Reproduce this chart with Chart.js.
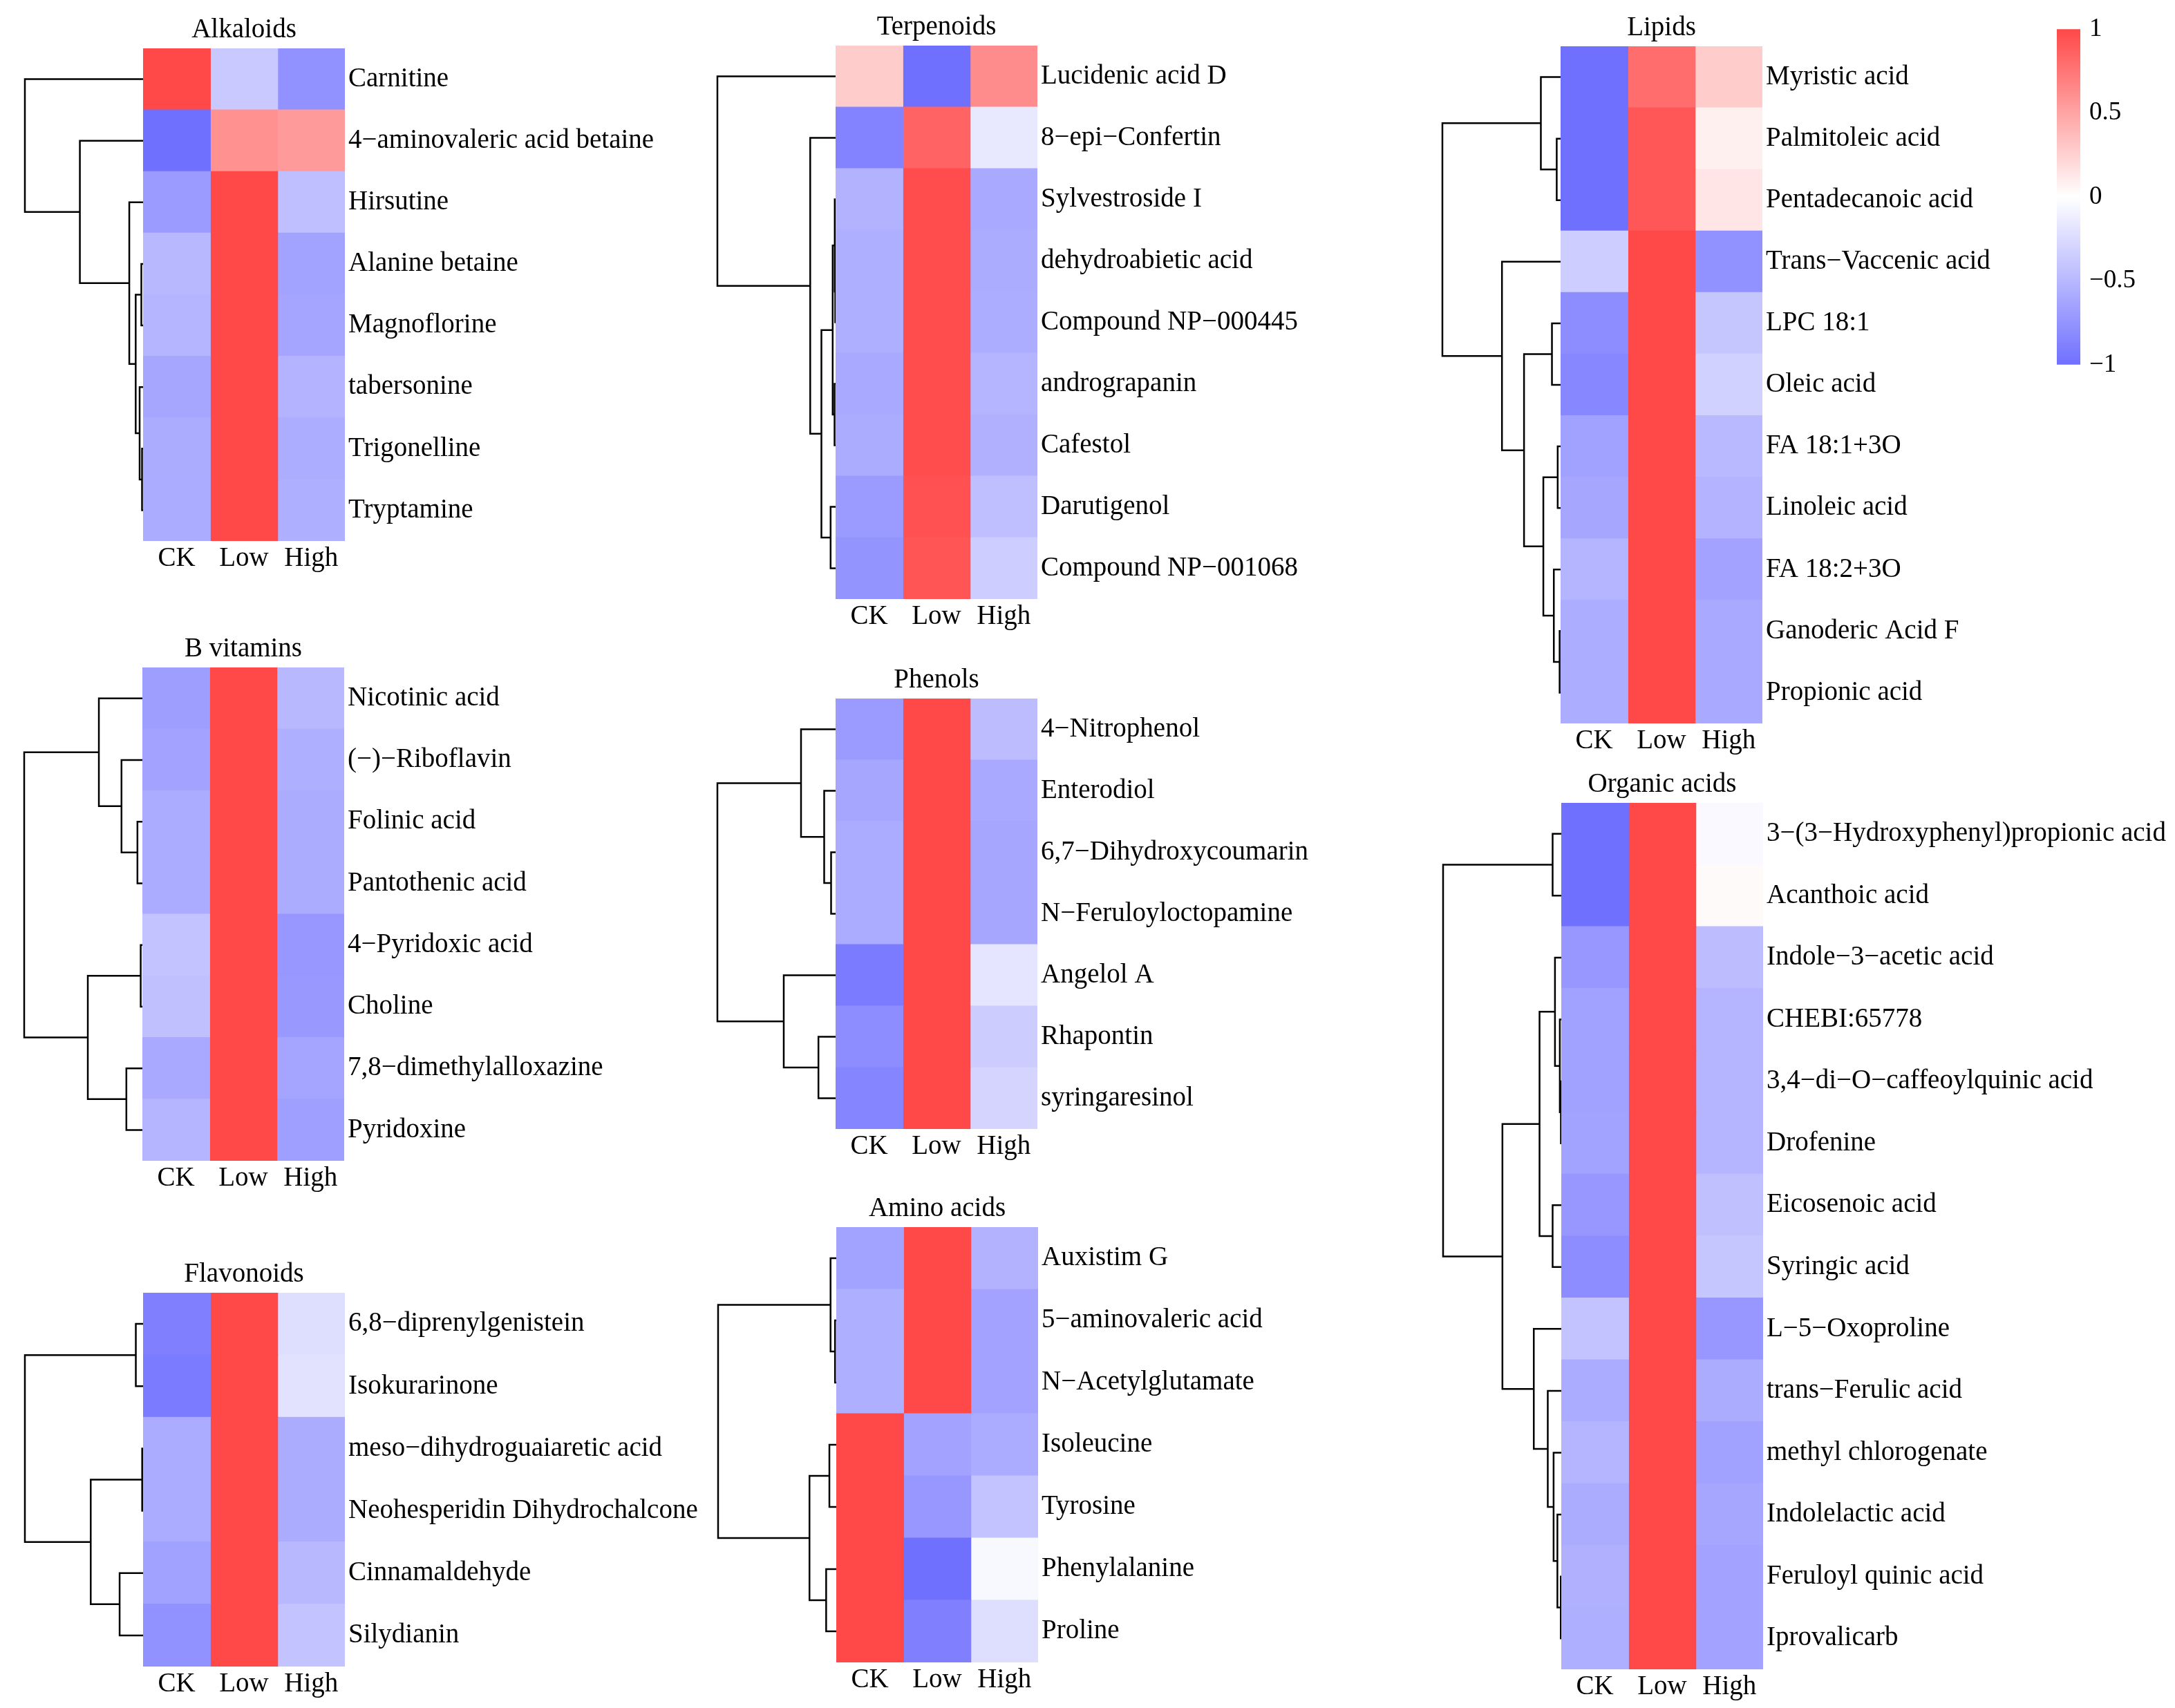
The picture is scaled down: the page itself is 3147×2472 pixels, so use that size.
<!DOCTYPE html>
<html>
<head>
<meta charset="utf-8">
<title>Metabolite heatmaps</title>
<script src="https://cdn.jsdelivr.net/npm/chart.js@4.4.1/dist/chart.umd.min.js"></script>
<style>
  html, body { margin: 0; padding: 0; background: #fff; }
  #page { position: relative; width: 3147px; height: 2472px; overflow: hidden; background: #fff; }
  #page canvas { position: absolute; }
</style>
</head>
<body>
<div id="page"></div>
<script>
// Row-scaled values (z-scores), one array per column.
// Merge tables follow hclust: negative = leaf (1-based row), positive = earlier merge, then height.
const groups = ['CK', 'Low', 'High'];

const alkaloidNames = ['Carnitine', '4−aminovaleric acid betaine', 'Hirsutine', 'Alanine betaine',
  'Magnoflorine', 'tabersonine', 'Trigonelline', 'Tryptamine'];
const alkaloidCK = [1.12, -1.15, -0.70, -0.50, -0.52, -0.62, -0.58, -0.59];
const alkaloidLow = [-0.38, 0.60, 1.15, 1.15, 1.15, 1.15, 1.15, 1.15];
const alkaloidHigh = [-0.77, 0.55, -0.45, -0.65, -0.63, -0.53, -0.57, -0.56];
const alkaloidMerge = [[-7, -8, 1.5], [-4, -5, 2.5], [-6, 1, 5], [2, 3, 10.7], [-3, 4, 20], [-2, 5, 91.7], [-1, 6, 171.5]];

const terpenoidNames = ['Lucidenic acid D', '8−epi−Confertin', 'Sylvestroside I', 'dehydroabietic acid',
  'Compound NP−000445', 'andrograpanin', 'Cafestol', 'Darutigenol', 'Compound NP−001068'];
const terpenoidCK = [0.28, -0.87, -0.54, -0.56, -0.56, -0.60, -0.58, -0.70, -0.75];
const terpenoidLow = [-1.10, 0.85, 0.97, 0.97, 0.97, 0.97, 0.97, 0.95, 0.93];
const terpenoidHigh = [0.63, -0.16, -0.60, -0.58, -0.57, -0.52, -0.55, -0.45, -0.35];
const terpenoidMerge = [[-4, -5, 0.5], [-6, -7, 1.5], [-3, 1, 1.2], [3, 2, 4.2], [-8, -9, 7.2], [4, 5, 20.5], [-2, 6, 36.7], [-1, 7, 171]];

const lipidNames = ['Myristic acid', 'Palmitoleic acid', 'Pentadecanoic acid', 'Trans−Vaccenic acid',
  'LPC 18:1', 'Oleic acid', 'FA 18:1+3O', 'Linoleic acid', 'FA 18:2+3O', 'Ganoderic Acid F', 'Propionic acid'];
const lipidCK = [-1.12, -1.12, -1.12, -0.35, -0.80, -0.84, -0.66, -0.62, -0.52, -0.57, -0.57];
const lipidLow = [0.80, 0.92, 0.92, 1.15, 1.15, 1.15, 1.15, 1.15, 1.15, 1.15, 1.15];
const lipidHigh = [0.28, 0.08, 0.14, -0.77, -0.40, -0.32, -0.49, -0.53, -0.64, -0.60, -0.60];
const lipidMerge = [[-10, -11, 1.4], [-7, -8, 4.2], [-2, -3, 5.6], [-9, 1, 9.8], [-5, -6, 12.5], [2, 4, 25],
  [-1, 3, 28.6], [5, 6, 53], [-4, 8, 85], [7, 9, 171.4]];

const vitaminNames = ['Nicotinic acid', '(−)−Riboflavin', 'Folinic acid', 'Pantothenic acid',
  '4−Pyridoxic acid', 'Choline', '7,8−dimethylalloxazine', 'Pyridoxine'];
const vitaminCK = [-0.68, -0.64, -0.59, -0.59, -0.42, -0.44, -0.60, -0.52];
const vitaminLow = [1.15, 1.15, 1.15, 1.15, 1.15, 1.15, 1.15, 1.15];
const vitaminHigh = [-0.50, -0.56, -0.58, -0.58, -0.73, -0.72, -0.63, -0.67];
const vitaminMerge = [[-5, -6, 2.4], [-3, -4, 7.1], [-7, -8, 23], [-2, 2, 30], [-1, 4, 62.5], [1, 3, 78.4], [5, 6, 169.8]];

const phenolNames = ['4−Nitrophenol', 'Enterodiol', '6,7−Dihydroxycoumarin', 'N−Feruloyloctopamine',
  'Angelol A', 'Rhapontin', 'syringaresinol'];
const phenolCK = [-0.70, -0.62, -0.59, -0.59, -0.92, -0.80, -0.85];
const phenolLow = [1.15, 1.15, 1.15, 1.15, 1.15, 1.15, 1.15];
const phenolHigh = [-0.47, -0.60, -0.62, -0.62, -0.18, -0.36, -0.30];
const phenolMerge = [[-3, -4, 6.5], [-2, 1, 16.5], [-6, -7, 24.8], [-1, 2, 50], [-5, 3, 75], [4, 5, 171]];

const aminoNames = ['Auxistim G', '5−aminovaleric acid', 'N−Acetylglutamate', 'Isoleucine',
  'Tyrosine', 'Phenylalanine', 'Proline'];
const aminoCK = [-0.65, -0.56, -0.56, 1.15, 1.15, 1.15, 1.15];
const aminoLow = [1.15, 1.15, 1.15, -0.64, -0.73, -1.05, -0.89];
const aminoHigh = [-0.54, -0.64, -0.64, -0.59, -0.42, -0.05, -0.23];
const aminoMerge = [[-2, -3, 1.8], [-1, 1, 8.3], [-4, -5, 10], [-6, -7, 14.7], [3, 4, 38.9], [2, 5, 171.6]];

const flavonoidNames = ['6,8−diprenylgenistein', 'Isokurarinone', 'meso−dihydroguaiaretic acid',
  'Neohesperidin Dihydrochalcone', 'Cinnamaldehyde', 'Silydianin'];
const flavonoidCK = [-0.89, -0.92, -0.59, -0.59, -0.66, -0.77];
const flavonoidLow = [1.15, 1.15, 1.15, 1.15, 1.15, 1.15];
const flavonoidHigh = [-0.23, -0.20, -0.58, -0.58, -0.50, -0.42];
const flavonoidMerge = [[-3, -4, 1.3], [-1, -2, 10.5], [-5, -6, 34], [1, 3, 75.9], [2, 4, 171.4]];

const organicNames = ['3−(3−Hydroxyphenyl)propionic acid', 'Acanthoic acid', 'Indole−3−acetic acid',
  'CHEBI:65778', '3,4−di−O−caffeoylquinic acid', 'Drofenine', 'Eicosenoic acid', 'Syringic acid',
  'L−5−Oxoproline', 'trans−Ferulic acid', 'methyl chlorogenate', 'Indolelactic acid',
  'Feruloyl quinic acid', 'Iprovalicarb'];
const organicCK = [-1.10, -1.10, -0.73, -0.66, -0.66, -0.65, -0.73, -0.80, -0.42, -0.59, -0.52, -0.58, -0.55, -0.56];
const organicLow = [1.10, 1.00, 1.15, 1.15, 1.15, 1.15, 1.15, 1.15, 1.15, 1.15, 1.15, 1.15, 1.15, 1.15];
const organicHigh = [-0.04, 0.03, -0.47, -0.52, -0.52, -0.52, -0.44, -0.40, -0.73, -0.58, -0.66, -0.62, -0.64, -0.64];
const organicMerge = [[-5, -6, 0.5], [-13, -14, 0.7], [-4, 1, 2.1], [-12, 2, 5.6], [-3, 3, 9.1], [-11, 4, 11.1],
  [-1, -2, 12.5], [-7, -8, 12.5], [-10, 6, 19.5], [5, 8, 31.4], [-9, 9, 39.7], [10, 11, 85], [7, 12, 170.7]];

const legendTicks = [-1, -0.5, 0, 0.5, 1];

// Layout (pixels)
const HEAT_W = 292;
const TITLE_H = 60;
const FOOT_H = 60;
const DENDRO_W = 171;
const LABEL_W = 595;

const panels = [
  { title: 'Alkaloids', names: alkaloidNames, cols: [alkaloidCK, alkaloidLow, alkaloidHigh], merge: alkaloidMerge, left: 207, top: 70, bottom: 783 },
  { title: 'Terpenoids', names: terpenoidNames, cols: [terpenoidCK, terpenoidLow, terpenoidHigh], merge: terpenoidMerge, left: 1209, top: 66, bottom: 867 },
  { title: 'Lipids', names: lipidNames, cols: [lipidCK, lipidLow, lipidHigh], merge: lipidMerge, left: 2258, top: 67, bottom: 1047 },
  { title: 'B vitamins', names: vitaminNames, cols: [vitaminCK, vitaminLow, vitaminHigh], merge: vitaminMerge, left: 206, top: 966, bottom: 1680 },
  { title: 'Phenols', names: phenolNames, cols: [phenolCK, phenolLow, phenolHigh], merge: phenolMerge, left: 1209, top: 1011, bottom: 1634 },
  { title: 'Amino acids', names: aminoNames, cols: [aminoCK, aminoLow, aminoHigh], merge: aminoMerge, left: 1210, top: 1776, bottom: 2406 },
  { title: 'Flavonoids', names: flavonoidNames, cols: [flavonoidCK, flavonoidLow, flavonoidHigh], merge: flavonoidMerge, left: 207, top: 1871, bottom: 2412 },
  { title: 'Organic acids', names: organicNames, cols: [organicCK, organicLow, organicHigh], merge: organicMerge, left: 2259, top: 1162, bottom: 2416 }
];

const BLUE = [112, 112, 255];
const RED = [255, 72, 72];

Chart.defaults.font.family = '"Liberation Serif", "Times New Roman", serif';
Chart.defaults.font.size = 39;
Chart.defaults.color = '#000';

function heatColor(v) {
  const t = Math.max(-1, Math.min(1, v));
  const end = t < 0 ? BLUE : RED;
  const a = Math.abs(t);
  const c = end.map(e => Math.round(255 + (e - 255) * a));
  return 'rgb(' + c.join(',') + ')';
}

function makeCanvas(left, top, width, height) {
  const c = document.createElement('canvas');
  c.width = width;
  c.height = height;
  c.style.left = left + 'px';
  c.style.top = top + 'px';
  c.style.width = width + 'px';
  c.style.height = height + 'px';
  document.getElementById('page').appendChild(c);
  return c;
}

const noGrid = { display: false, drawTicks: false };
const noBorder = { display: false };

function drawHeatmap(p) {
  const canvas = makeCanvas(p.left, p.top - TITLE_H, HEAT_W + LABEL_W, p.bottom - p.top + TITLE_H + FOOT_H);
  new Chart(canvas, {
    type: 'bar',
    data: {
      labels: p.names,
      datasets: groups.map((g, j) => ({
        label: g,
        data: p.names.map(() => 1),
        backgroundColor: p.cols[j].map(heatColor),
        borderWidth: 0,
        barPercentage: 1,
        categoryPercentage: 1,
        inflateAmount: 0.6
      }))
    },
    options: {
      indexAxis: 'y',
      responsive: false,
      animation: false,
      events: [],
      layout: { padding: 0 },
      plugins: { legend: { display: false }, tooltip: { enabled: false } },
      scales: {
        x: {
          type: 'linear', stacked: true, min: 0, max: groups.length, position: 'bottom',
          grid: noGrid, border: noBorder,
          afterBuildTicks: s => { s.ticks = groups.map((g, i) => ({ value: i + 0.5 })); },
          ticks: { callback: (v, i) => groups[i], padding: 2, maxRotation: 0, autoSkip: false },
          afterFit: s => { s.height = FOOT_H; }
        },
        head: {
          type: 'category', axis: 'x', position: 'top', labels: [p.title], offset: true,
          grid: noGrid, border: noBorder,
          ticks: { padding: 3, maxRotation: 0 },
          afterFit: s => { s.height = TITLE_H; }
        },
        y: {
          type: 'category', stacked: true, position: 'right',
          grid: noGrid, border: noBorder,
          ticks: { padding: 5, autoSkip: false },
          afterFit: s => { s.width = LABEL_W; }
        }
      }
    }
  });
}

function drawDendrogram(p) {
  const n = p.names.length;
  const nodes = [];
  const nodeY = k => (k < 0 ? -k - 1 : nodes[k - 1].y);
  const nodeH = k => (k < 0 ? 0 : nodes[k - 1].h);
  const datasets = p.merge.map(([a, b, h]) => {
    const ya = nodeY(a);
    const yb = nodeY(b);
    const seg = [
      { x: nodeH(a), y: ya }, { x: h, y: ya },
      { x: h, y: yb }, { x: nodeH(b), y: yb }
    ];
    nodes.push({ y: (ya + yb) / 2, h: h });
    return {
      data: seg, showLine: true, pointRadius: 0, borderColor: '#000',
      borderWidth: 2.5, tension: 0, clip: false
    };
  });
  const rootH = p.merge[p.merge.length - 1][2];
  const pad = 4;
  const canvas = makeCanvas(p.left - DENDRO_W - pad, p.top, DENDRO_W + pad, p.bottom - p.top);
  new Chart(canvas, {
    type: 'scatter',
    data: { datasets },
    options: {
      responsive: false,
      animation: false,
      events: [],
      layout: { padding: { left: pad, right: 0, top: 0, bottom: 0 } },
      plugins: { legend: { display: false }, tooltip: { enabled: false } },
      scales: {
        x: { type: 'linear', reverse: true, min: 0, max: rootH, display: false },
        y: { type: 'linear', reverse: true, min: -0.5, max: n - 0.5, display: false }
      }
    }
  });
}

function drawColorKey() {
  const inset = 35;   // measured gap Chart.js leaves above/below the bar
  const pad = 25;
  const barW = 34;
  const canvas = makeCanvas(2976, 42 - inset, barW + 140, 486 + 2 * inset);
  new Chart(canvas, {
    type: 'bar',
    data: {
      labels: [''],
      datasets: [{
        data: [[legendTicks[0], legendTicks[legendTicks.length - 1]]],
        borderWidth: 0,
        barPercentage: 1,
        categoryPercentage: 1,
        backgroundColor: ctx => {
          const area = ctx.chart.chartArea;
          if (!area) return null;
          const g = ctx.chart.ctx.createLinearGradient(0, area.bottom, 0, area.top);
          for (let i = 0; i <= 20; i++) {
            g.addColorStop(i / 20, heatColor(-1 + i / 10));
          }
          return g;
        }
      }]
    },
    options: {
      responsive: false,
      animation: false,
      events: [],
      layout: { padding: { top: pad, bottom: pad, left: 0, right: 0 } },
      plugins: { legend: { display: false }, tooltip: { enabled: false } },
      scales: {
        x: { display: false },
        y: {
          position: 'right', min: -1, max: 1,
          grid: noGrid, border: noBorder,
          afterBuildTicks: s => { s.ticks = legendTicks.map(v => ({ value: v })); },
          ticks: {
            padding: 13,
            font: { size: 37 },
            callback: v => (v < 0 ? '−' + Math.abs(v) : String(v))
          },
          afterFit: s => { s.width = 140; }
        }
      }
    }
  });
}

panels.forEach(p => {
  drawDendrogram(p);
  drawHeatmap(p);
});
drawColorKey();
</script>
</body>
</html>
